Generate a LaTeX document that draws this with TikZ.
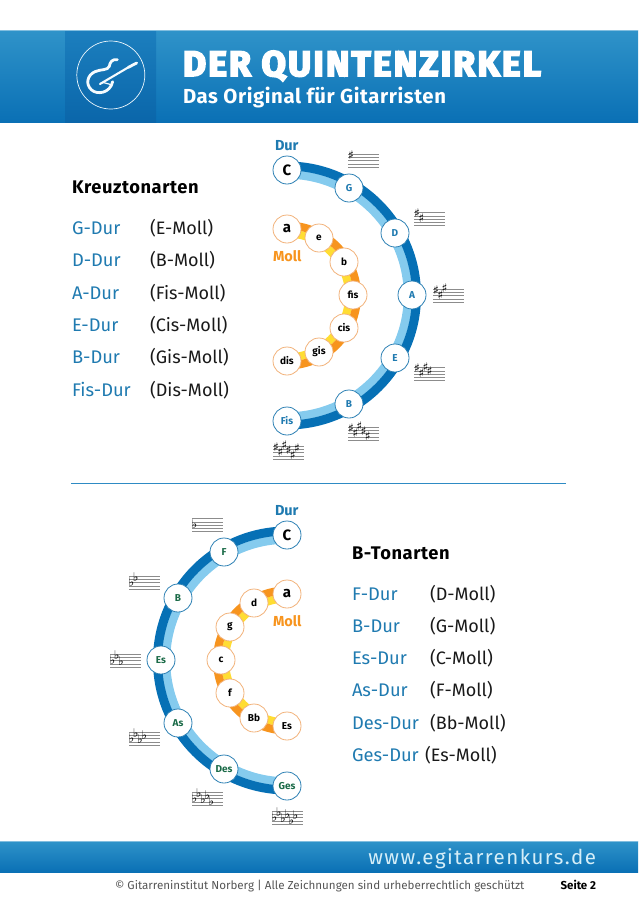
\documentclass[tikz,border=0pt]{standalone}
\usepackage{fontspec}
\setmainfont{Fira Sans}
\newfontfamily\titlefont{Fira Sans}[BoldFeatures={FakeBold=5,LetterSpace=6}]
\newfontfamily\webfont{Fira Sans}[LetterSpace=7]
\newfontfamily\headfont{Fira Sans}[LetterSpace=3]
\newfontfamily\symfont{DejaVu Sans}
\definecolor{bandtop}{HTML}{2F93C9}
\definecolor{bandbot}{HTML}{0A70B5}
\definecolor{squaretop}{HTML}{1C7FBE}
\definecolor{squarebot}{HTML}{0A66AA}
\definecolor{durdark}{HTML}{0670B5}
\definecolor{durlight}{HTML}{85CBEE}
\definecolor{durborder}{HTML}{2C80B4}
\definecolor{durtext}{HTML}{1F7AB0}
\definecolor{flattext}{HTML}{1B6B48}
\definecolor{mollorange}{HTML}{F7941E}
\definecolor{mollyellow}{HTML}{FFDD33}
\definecolor{mollborder}{HTML}{F2B27A}
\definecolor{rulecol}{HTML}{2E8BC4}
\definecolor{stavecol}{HTML}{8C8C8C}
\definecolor{webcol}{HTML}{D5EEF8}
\definecolor{footcol}{HTML}{555555}
\tikzset{
  every node/.style={inner sep=0pt,outer sep=0pt},
  durring/.style={draw=durborder,line width=0.8pt,fill=white,circle,minimum size=28pt,font=\fontsize{10}{10}\selectfont\bfseries},
  sharpkey/.style={durring,text=durtext},
  flatkey/.style={durring,text=flattext},
  ckey/.style={durring,text=black,font=\fontsize{15}{15}\selectfont\bfseries},
  mollring/.style={draw=mollborder,line width=0.8pt,fill=white,circle,minimum size=28pt,text=black,font=\fontsize{10}{10}\selectfont\bfseries},
  bigmoll/.style={mollring,font=\fontsize{15}{15}\selectfont\bfseries},
  listdur/.style={anchor=base west,text=durtext,font=\fontsize{18.3}{18}\selectfont},
  listmoll/.style={anchor=base west,text=black!90,font=\fontsize{18}{18}\selectfont},
  heading/.style={anchor=base west,text=black,font=\fontsize{18.3}{18}\selectfont\headfont\bfseries},
  durlabel/.style={anchor=base west,text=durtext,font=\fontsize{14.5}{14}\selectfont\bfseries},
  molllabel/.style={anchor=base west,text=mollorange,font=\fontsize{14.5}{14}\selectfont\bfseries},
  staveline/.style={draw=stavecol,line width=0.55pt},
  accmark/.style={text=black,font=\fontsize{12}{12}\selectfont\symfont},
}
\newcommand{\stavelines}[2]{%
  \foreach \i in {0,...,4}{\draw[staveline] (#1,#2+3.3*\i) -- (#1+31,#2+3.3*\i);}}
\newcommand{\sharpset}[4]{%
  \stavelines{#2}{#3}%
  \foreach \k/\o in {#4}{\node[accmark] (#1\k) at (#2+3+4.2*\k,#3+1+3.1*\o) {♯};}}
\newcommand{\flatset}[4]{%
  \stavelines{#2}{#3}%
  \foreach \k/\o in {#4}{\node[accmark] (#1\k) at (#2+2.5+4.2*\k,#3-0.5+3.2*\o) {♭};}}
\begin{document}
\begin{tikzpicture}[x=1pt,y=-1pt]
\useasboundingbox (0,0) rectangle (638,903);
% header
\shade[top color=bandtop,bottom color=bandbot] (0,30) rectangle (638,122);
\shade[top color=squaretop,bottom color=squarebot] (65,30) rectangle (156,122);
\draw[bandtop!60!white,line width=0.8pt] (0,30.4) -- (638,30.4);
\node[circle,draw=white!85!durlight,line width=0.7pt,minimum size=68pt] (logo) at (110.8,75) {};
\begin{scope}[shift={(60,25)},scale=1/3]
  \draw[white!92!durlight,line width=2.8pt,line cap=round,line join=round]
    (172,104) .. controls (155,102) and (150,112) .. (148,124)
    .. controls (143,137) and (122,132) .. (105,140)
    .. controls (82,150) and (75,178) .. (95,195)
    .. controls (112,210) and (150,205) .. (158,170);
  \draw[white!92!durlight,line width=2.1pt,line cap=round] (120,177) -- (205,127);
  \draw[white!92!durlight,line width=2.8pt,line cap=round] (205,127) -- (230,114);
  \draw[white!92!durlight,line width=1.2pt,line cap=round] (128,172) -- (150,178);
\end{scope}
\node[anchor=base west,text=white,font=\fontsize{35.5}{36}\selectfont\titlefont\bfseries] (title) at (183,76) {DER QUINTENZIRKEL};
\node[anchor=base west,text=white,font=\fontsize{20.3}{20}\selectfont\headfont\bfseries] (subtitle) at (183,103.5) {Das Original für Gitarristen};
% upper circle
\coordinate (ucd) at (287,295.5);
\draw[durlight,line width=8.5pt] (ucd) ++(90:121pt) arc[start angle=90,end angle=-90,radius=121pt];
\draw[durdark,line width=9pt] (ucd) ++(90:129.5pt) arc[start angle=90,end angle=-90,radius=129.5pt];
\draw[mollyellow,line width=8pt] (ucd) ++(90:62pt) arc[start angle=90,end angle=-90,radius=62pt];
\draw[mollorange,line width=8pt] (ucd) ++(90:70pt) arc[start angle=90,end angle=-90,radius=70pt];
\node[ckey] (uC) at (287,170) {C};
\node[sharpkey] (uG) at (349,188) {G};
\node[sharpkey] (uD) at (395,233) {D};
\node[sharpkey] (uA) at (412,295) {A};
\node[sharpkey] (uE) at (395,358) {E};
\node[sharpkey] (uB) at (349,404) {B};
\node[sharpkey] (uFis) at (287,421) {Fis};
\node[bigmoll] (ua) at (287,229) {a};
\node[mollring] (ue) at (319,238) {e};
\node[mollring] (ub) at (344,262) {b};
\node[mollring] (ufis) at (353,295) {fis};
\node[mollring] (ucis) at (344,328) {cis};
\node[mollring] (ugis) at (319,352) {gis};
\node[mollring] (udis) at (287,361) {dis};
\node[durlabel] (udur) at (275,150) {Dur};
\node[molllabel] (umoll) at (273,261) {Moll};
\sharpset{sa}{348}{154}{0/0}
\sharpset{sb}{414}{212.5}{0/0,1/1.5}
\sharpset{sc}{433}{289}{0/0,1/1.5,2/-0.5}
\sharpset{sd}{414}{367.5}{0/0,1/1.5,2/-0.5,3/1}
\sharpset{se}{348}{427}{0/0,1/1.5,2/-0.5,3/1,4/2.5}
\sharpset{sf}{273}{446}{0/0,1/1.5,2/-0.5,3/1,4/2.5,5/0.5}
% left list
\node[heading] (kreuz) at (72,193.5) {Kreuztonarten};
\foreach \n/\d/\m/\y in {a/G-Dur/(E-Moll)/234,b/D-Dur/(B-Moll)/266,c/A-Dur/(Fis-Moll)/299,d/E-Dur/(Cis-Moll)/331,e/B-Dur/(Gis-Moll)/363.5,f/Fis-Dur/(Dis-Moll)/396}{
  \node[listdur] (ld\n) at (72,\y) {\d};
  \node[listmoll] (lm\n) at (150,\y) {\m};
}
% separator
\coordinate (sepl) at (71,483);
\coordinate (sepr) at (566,483);
\draw[rulecol,line width=1pt] (sepl) -- (sepr);
% lower circle
\coordinate (lcd) at (287,660.5);
\draw[durlight,line width=8.5pt] (lcd) ++(90:121pt) arc[start angle=90,end angle=270,radius=121pt];
\draw[durdark,line width=9pt] (lcd) ++(90:129.5pt) arc[start angle=90,end angle=270,radius=129.5pt];
\draw[mollyellow,line width=8pt] (lcd) ++(90:62pt) arc[start angle=90,end angle=270,radius=62pt];
\draw[mollorange,line width=8pt] (lcd) ++(90:70pt) arc[start angle=90,end angle=270,radius=70pt];
\node[ckey] (lC) at (287,535) {C};
\node[flatkey] (lF) at (224,552) {F};
\node[flatkey] (lB) at (178,598) {B};
\node[flatkey] (lEs) at (161,660) {Es};
\node[flatkey] (lAs) at (178,723) {As};
\node[flatkey] (lDes) at (224,769) {Des};
\node[flatkey] (lGes) at (287,786) {Ges};
\node[bigmoll] (la) at (287,594) {a};
\node[mollring] (ld) at (254,603) {d};
\node[mollring] (lg) at (230,627) {g};
\node[mollring] (lc) at (221,660) {c};
\node[mollring] (lf) at (230,693) {f};
\node[mollring] (lbb) at (254,718) {Bb};
\node[mollring] (les) at (287,726) {Es};
\node[durlabel] (ldur) at (275,515) {Dur};
\node[molllabel] (lmoll) at (273,626) {Moll};
\flatset{fa}{192}{518.5}{0/2}
\flatset{fb}{129}{576}{0/2,1/0.5}
\flatset{fc}{110}{654}{0/2,1/0.5,2/2.5}
\flatset{fd}{129}{732}{0/2,1/0.5,2/2.5,3/1}
\flatset{fe}{192}{792}{0/2,1/0.5,2/2.5,3/1,4/3}
\flatset{ff}{272}{811}{0/2,1/0.5,2/2.5,3/1,4/3,5/1.5}
% right list
\node[heading] (btone) at (352,559) {B-Tonarten};
\foreach \n/\d/\m/\y/\x in {a/F-Dur/(D-Moll)/600/430,b/B-Dur/(G-Moll)/632/430,c/Es-Dur/(C-Moll)/664/430,d/As-Dur/(F-Moll)/696/430,e/Des-Dur/(Bb-Moll)/729/430,f/Ges-Dur/(Es-Moll)/761/425}{
  \node[listdur] (rd\n) at (352,\y) {\d};
  \node[listmoll] (rm\n) at (\x,\y) {\m};
}
% footer
\shade[top color=bandtop,bottom color=bandbot] (0,841) rectangle (638,872);
\draw[bandtop!60!white,line width=0.7pt] (0,841.3) -- (638,841.3);
\node[anchor=base east,text=webcol,font=\fontsize{20.5}{20}\selectfont\webfont] (web) at (596,864) {www.egitarrenkurs.de};
\node[anchor=base west,text=footcol,font=\fontsize{11.6}{12}\selectfont] (copy) at (115,889) {© Gitarreninstitut Norberg | Alle Zeichnungen sind urheberrechtlich geschützt};
\node[anchor=base east,text=black,font=\fontsize{11.5}{12}\selectfont\bfseries] (seite) at (596,889) {Seite 2};
\end{tikzpicture}
\end{document}
